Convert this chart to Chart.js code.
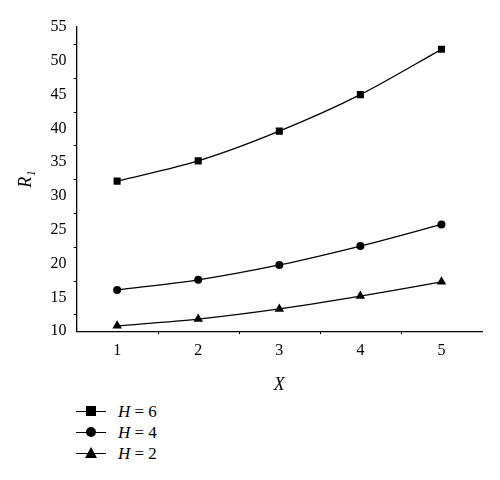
<!DOCTYPE html>
<html>
<head>
<meta charset="utf-8">
<script src="https://cdn.jsdelivr.net/npm/chart.js@4"></script>
<style>
  body { margin: 0; background: #fff; font-family: "Liberation Serif", "DejaVu Serif", serif; }
  #wrap { position: relative; width: 500px; height: 400px; }
  #legend { position: absolute; left: 76px; top: 401px; font-size: 17px; color: #000; }
  .row { height: 21px; display: flex; align-items: center; }
  .sym { width: 30px; position: relative; height: 21px; margin-right: 12px; }
  .sym .ln { position: absolute; left: 0; right: 0; top: 10px; border-top: 1.3px solid #000; }
  .sym .mk { position: absolute; left: 10px; top: 5px; width: 10px; height: 10px; background: #000; }
</style>
</head>
<body>
<div id="wrap"><canvas id="c"></canvas></div>
<div id="legend"></div>
<script>
// ── data ──
const xValues = [1, 2, 3, 4, 5];
const h6 = [32.2, 35.2, 39.6, 45.0, 51.7];
const h4 = [16.1, 17.6, 19.8, 22.6, 25.8];
const h2 = [10.8, 11.8, 13.3, 15.2, 17.3];
const seriesNames = ['H = 6', 'H = 4', 'H = 2'];
const markers = ['rect', 'circle', 'triangle'];

const FONT = '"Liberation Serif", "DejaVu Serif", serif';
const pts = arr => arr.map((y, i) => ({ x: xValues[i], y }));

function ds(label, data, style) {
    const r = { rect: 5, circle: 4, triangle: 5.5 };
    return {
        label, data: pts(data), borderColor: '#000', backgroundColor: '#000',
        borderWidth: 1.3, pointStyle: style, pointRadius: r[style],
        pointBorderWidth: 0, tension: 0.3
    };
}

// minor ticks, half-step between majors
const minorTicks = {
    id: 'minorTicks',
    afterDraw(chart) {
        const { ctx, scales: { x, y } } = chart;
        ctx.save();
        ctx.strokeStyle = '#000'; ctx.lineWidth = 1;
        for (let v = 1.5; v < 5.5; v += 1) {
            const px = Math.round(x.getPixelForValue(v)) + .5;
            ctx.beginPath(); ctx.moveTo(px, y.bottom); ctx.lineTo(px, y.bottom + 3); ctx.stroke();
        }
        for (let v = 12.5; v < 55; v += 5) {
            const py = Math.round(y.getPixelForValue(v)) + .5;
            ctx.beginPath(); ctx.moveTo(x.left, py); ctx.lineTo(x.left - 3, py); ctx.stroke();
        }
        ctx.restore();
    }
};

new Chart(document.getElementById('c'), {
    type: 'line',
    data: { datasets: [ds(seriesNames[0], h6, 'rect'), ds(seriesNames[1], h4, 'circle'), ds(seriesNames[2], h2, 'triangle')] },
    options: {
        responsive: true, maintainAspectRatio: false, animation: false,
        layout: { padding: { top: 27, right: 18, left: 11, bottom: 0 } },
        plugins: { legend: { display: false }, tooltip: { enabled: false } },
        scales: {
            x: {
                type: 'linear', min: 0.5, max: 5.5,
                afterBuildTicks: s => { s.ticks = xValues.map(v => ({ value: v })); },
                grid: { display: false, drawTicks: true, tickLength: 6, color: '#000' },
                border: { color: '#000', width: 1.3 },
                ticks: { color: '#000', font: { family: FONT, size: 16 }, padding: 4 },
                title: { display: true, text: 'X', color: '#000', font: { family: FONT, size: 18, style: 'italic' }, padding: { top: 10 } }
            },
            y: {
                min: 10, max: 55,
                ticks: { stepSize: 5, color: '#000', font: { family: FONT, size: 16 }, padding: 4 },
                grid: { display: false, drawTicks: true, tickLength: 6 },
                border: { color: '#000', width: 1.3 },
                title: { display: true, text: 'R₁', color: '#000', font: { family: FONT, size: 18, style: 'italic' }, padding: { bottom: 10 } }
            }
        }
    },
    plugins: [minorTicks]
});

// legend
const leg = document.getElementById('legend');
seriesNames.forEach((name, i) => {
    const m = markers[i];
    let mk = '<div class="mk"></div>';
    if (m === 'circle') mk = '<div class="mk" style="border-radius:50%"></div>';
    if (m === 'triangle') mk = '<div class="mk" style="background:none;width:0;height:0;border-left:6px solid transparent;border-right:6px solid transparent;border-bottom:11px solid #000;top:4px;left:9px"></div>';
    const [h, rest] = name.split(' = ');
    leg.innerHTML += `<div class="row"><div class="sym"><div class="ln"></div>${mk}</div><span><i>${h}</i> = ${rest}</span></div>`;
});
</script>
</body>
</html>
